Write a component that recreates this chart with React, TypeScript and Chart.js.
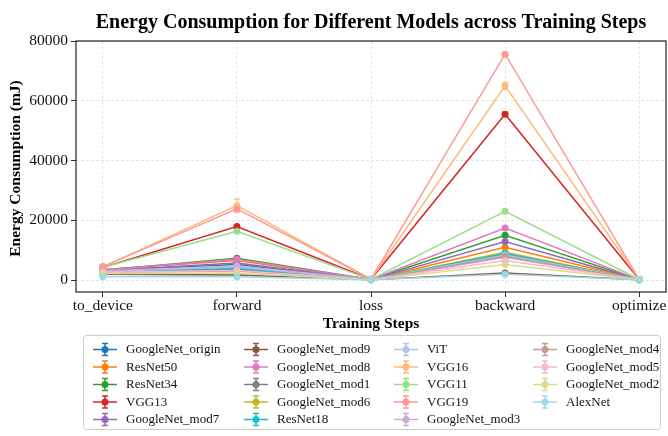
import React, { useEffect, useRef } from 'react';
import { Chart, registerables } from 'chart.js';

Chart.register(...registerables);

const steps = ['to_device', 'forward', 'loss', 'backward', 'optimize'];
const yTicks = [0, 20000, 40000, 60000, 80000];

const models = [
  'GoogleNet_origin', 'ResNet50', 'ResNet34', 'VGG13', 'GoogleNet_mod7',
  'GoogleNet_mod9', 'GoogleNet_mod8', 'GoogleNet_mod1', 'GoogleNet_mod6', 'ResNet18',
  'ViT', 'VGG16', 'VGG11', 'VGG19', 'GoogleNet_mod3',
  'GoogleNet_mod4', 'GoogleNet_mod5', 'GoogleNet_mod2', 'AlexNet',
];

const colors = [
  '#1f77b4', '#ff7f0e', '#2ca02c', '#d62728', '#9467bd',
  '#8c564b', '#e377c2', '#7f7f7f', '#bcbd22', '#17becf',
  '#aec7e8', '#ffbb78', '#98df8a', '#ff9896', '#c5b0d5',
  '#c49c94', '#f7b6d2', '#dbdb8d', '#9edae5',
];

// Energy (mJ) per step: to_device, forward, loss, backward, optimize
const GoogleNet_origin = [3100, 5200, 150, 8700, 150];
const ResNet50 = [3500, 6500, 200, 11000, 150];
const ResNet34 = [3300, 7300, 180, 15000, 150];
const VGG13 = [4200, 17900, 250, 55500, 200];
const GoogleNet_mod7 = [3200, 5700, 150, 12900, 130];
const GoogleNet_mod9 = [1900, 1700, 120, 2400, 100];
const GoogleNet_mod8 = [3400, 7000, 160, 17400, 150];
const GoogleNet_mod1 = [2600, 3500, 130, 7800, 120];
const GoogleNet_mod6 = [2900, 4300, 140, 9300, 130];
const ResNet18 = [2700, 3900, 150, 8900, 140];
const ViT = [3000, 4700, 200, 8400, 200];
const VGG16 = [4400, 24900, 300, 65000, 250];
const VGG11 = [4300, 16300, 200, 23000, 180];
const VGG19 = [4500, 23800, 300, 75600, 250];
const GoogleNet_mod3 = [2900, 4400, 140, 7600, 120];
const GoogleNet_mod4 = [2500, 3000, 130, 8000, 120];
const GoogleNet_mod5 = [2600, 3200, 130, 6500, 120];
const GoogleNet_mod2 = [2200, 2400, 120, 5200, 110];
const AlexNet = [1100, 1100, 100, 1900, 100];

const series = [
  GoogleNet_origin, ResNet50, ResNet34, VGG13, GoogleNet_mod7,
  GoogleNet_mod9, GoogleNet_mod8, GoogleNet_mod1, GoogleNet_mod6, ResNet18,
  ViT, VGG16, VGG11, VGG19, GoogleNet_mod3,
  GoogleNet_mod4, GoogleNet_mod5, GoogleNet_mod2, AlexNet,
];

// Standard deviations (error bars)
const errSmall = [150, 300, 20, 300, 20];
const errVGG13 = [200, 500, 30, 700, 30];
const errVGG16 = [200, 2200, 30, 1200, 30];
const errVGG19 = [200, 600, 30, 600, 30];
const errors = series.map((_, i) => (i === 3 ? errVGG13 : i === 11 ? errVGG16 : i === 13 ? errVGG19 : errSmall));

const FONT = '"Liberation Serif", "Times New Roman", Times, serif';

const overlay = {
  id: 'overlay',
  afterDatasetDraw(chart: any, args: any) {
    const i = args.index;
    const meta = chart.getDatasetMeta(i);
    const ys = chart.scales.y;
    const ctx = chart.ctx;
    ctx.save();
    ctx.strokeStyle = colors[i];
    ctx.lineWidth = 1.2;
    meta.data.forEach((pt: any, j: number) => {
      const v = series[i][j];
      const e = errors[i][j];
      const y1 = ys.getPixelForValue(v + e);
      const y2 = ys.getPixelForValue(v - e);
      ctx.beginPath();
      ctx.moveTo(pt.x, y1);
      ctx.lineTo(pt.x, y2);
      ctx.moveTo(pt.x - 3, y1);
      ctx.lineTo(pt.x + 3, y1);
      ctx.moveTo(pt.x - 3, y2);
      ctx.lineTo(pt.x + 3, y2);
      ctx.stroke();
    });
    ctx.restore();
  },
  afterDraw(chart: any) {
    const ctx = chart.ctx;
    const a = chart.chartArea;
    ctx.save();
    // frame
    ctx.strokeStyle = '#222';
    ctx.lineWidth = 1.2;
    ctx.strokeRect(a.left, a.top, a.right - a.left, a.bottom - a.top);
    ctx.fillStyle = '#000';
    // title
    ctx.font = `bold 20px ${FONT}`;
    ctx.textAlign = 'center';
    ctx.textBaseline = 'alphabetic';
    ctx.fillText('Energy Consumption for Different Models across Training Steps', (a.left + a.right) / 2, 28);
    // x title
    ctx.font = `bold 15.5px ${FONT}`;
    ctx.fillText('Training Steps', (a.left + a.right) / 2, 328);
    // y title
    ctx.save();
    ctx.translate(16, (a.top + a.bottom) / 2 + 2);
    ctx.rotate(-Math.PI / 2);
    ctx.textBaseline = 'middle';
    ctx.fillText('Energy Consumption (mJ)', 0, 0);
    ctx.restore();
    // legend
    const bx = 83, by = 335, bw = 577, bh = 94;
    ctx.fillStyle = 'rgba(255,255,255,0.85)';
    ctx.strokeStyle = '#cccccc';
    ctx.lineWidth = 1;
    ctx.beginPath();
    ctx.roundRect(bx + 0.5, by + 0.5, bw, bh, 3);
    ctx.fill();
    ctx.stroke();
    const colX = [105, 256, 406, 545];
    const rowY = [349.5, 367, 384.5, 402, 419.5];
    ctx.font = `13px ${FONT}`;
    ctx.textAlign = 'left';
    ctx.textBaseline = 'middle';
    models.forEach((name, k) => {
      const c = Math.floor(k / 5);
      const r = k % 5;
      const cx = colX[c];
      const cy = rowY[r];
      ctx.strokeStyle = colors[k];
      ctx.lineWidth = 1.5;
      ctx.beginPath();
      ctx.moveTo(cx - 12, cy);
      ctx.lineTo(cx + 12, cy);
      ctx.moveTo(cx, cy - 6);
      ctx.lineTo(cx, cy + 6);
      ctx.moveTo(cx - 3, cy - 6);
      ctx.lineTo(cx + 3, cy - 6);
      ctx.moveTo(cx - 3, cy + 6);
      ctx.lineTo(cx + 3, cy + 6);
      ctx.stroke();
      ctx.fillStyle = colors[k];
      ctx.beginPath();
      ctx.arc(cx, cy, 3.5, 0, Math.PI * 2);
      ctx.fill();
      ctx.fillStyle = '#111';
      ctx.fillText(name, cx + 21, cy + 0.5);
    });
    ctx.restore();
  },
};

export default function App() {
  const ref = useRef<HTMLCanvasElement>(null);
  useEffect(() => {
    if (!ref.current) return;
    const datasets = models.map((name, i) => ({
      label: name,
      data: series[i].map((v, j) => ({ x: j, y: v })),
      borderColor: colors[i],
      backgroundColor: colors[i],
      pointBackgroundColor: colors[i],
      pointBorderColor: colors[i],
      pointRadius: 3.5,
      pointBorderWidth: 0,
      borderWidth: 1.5,
      fill: false,
      tension: 0,
      order: models.length - i,
    }));
    const chart = new Chart(ref.current, {
      type: 'line',
      data: { datasets },
      plugins: [overlay],
      options: {
        responsive: false,
        animation: false,
        devicePixelRatio: 1,
        layout: { padding: { top: 41, right: 2, left: 0, bottom: 0 }, autoPadding: false },
        plugins: {
          legend: { display: false },
          title: { display: false },
          tooltip: { enabled: false },
        },
        scales: {
          x: {
            type: 'linear',
            min: -0.2,
            max: 4.2,
            afterBuildTicks: (s: any) => {
              s.ticks = steps.map((_, i) => ({ value: i }));
            },
            afterFit: (s: any) => {
              s.height = 144;
              s.paddingLeft = 0;
              s.paddingRight = 0;
            },
            ticks: {
              callback: (v: any) => steps[v] ?? '',
              font: { family: FONT, size: 15.5 },
              color: '#111',
              padding: 0,
              maxRotation: 0,
              autoSkip: false,
            },
            grid: { color: '#dddddd', lineWidth: 0.8, tickColor: '#333', tickLength: 5, tickWidth: 1, tickBorderDash: [] },
            border: { display: false, dash: [3, 2] },
          },
          y: {
            min: -4000,
            max: 80000,
            afterBuildTicks: (s: any) => {
              s.ticks = yTicks.map((v) => ({ value: v }));
            },
            afterFit: (s: any) => {
              s.width = 76;
              s.paddingTop = 0;
              s.paddingBottom = 0;
            },
            ticks: {
              font: { family: FONT, size: 15.5 },
              color: '#111',
              padding: 3,
              callback: (v: any) => String(v),
            },
            grid: { color: '#dddddd', lineWidth: 0.8, tickColor: '#333', tickLength: 5, tickWidth: 1, tickBorderDash: [] },
            border: { display: false, dash: [3, 2] },
          },
        },
      } as any,
    });
    return () => chart.destroy();
  }, []);
  return (
    <div style={{ position: 'absolute', left: 0, top: 0, width: 668, height: 436, background: '#fff' }}>
      <canvas ref={ref} width={668} height={436} style={{ display: 'block', width: 668, height: 436 }} />
    </div>
  );
}
